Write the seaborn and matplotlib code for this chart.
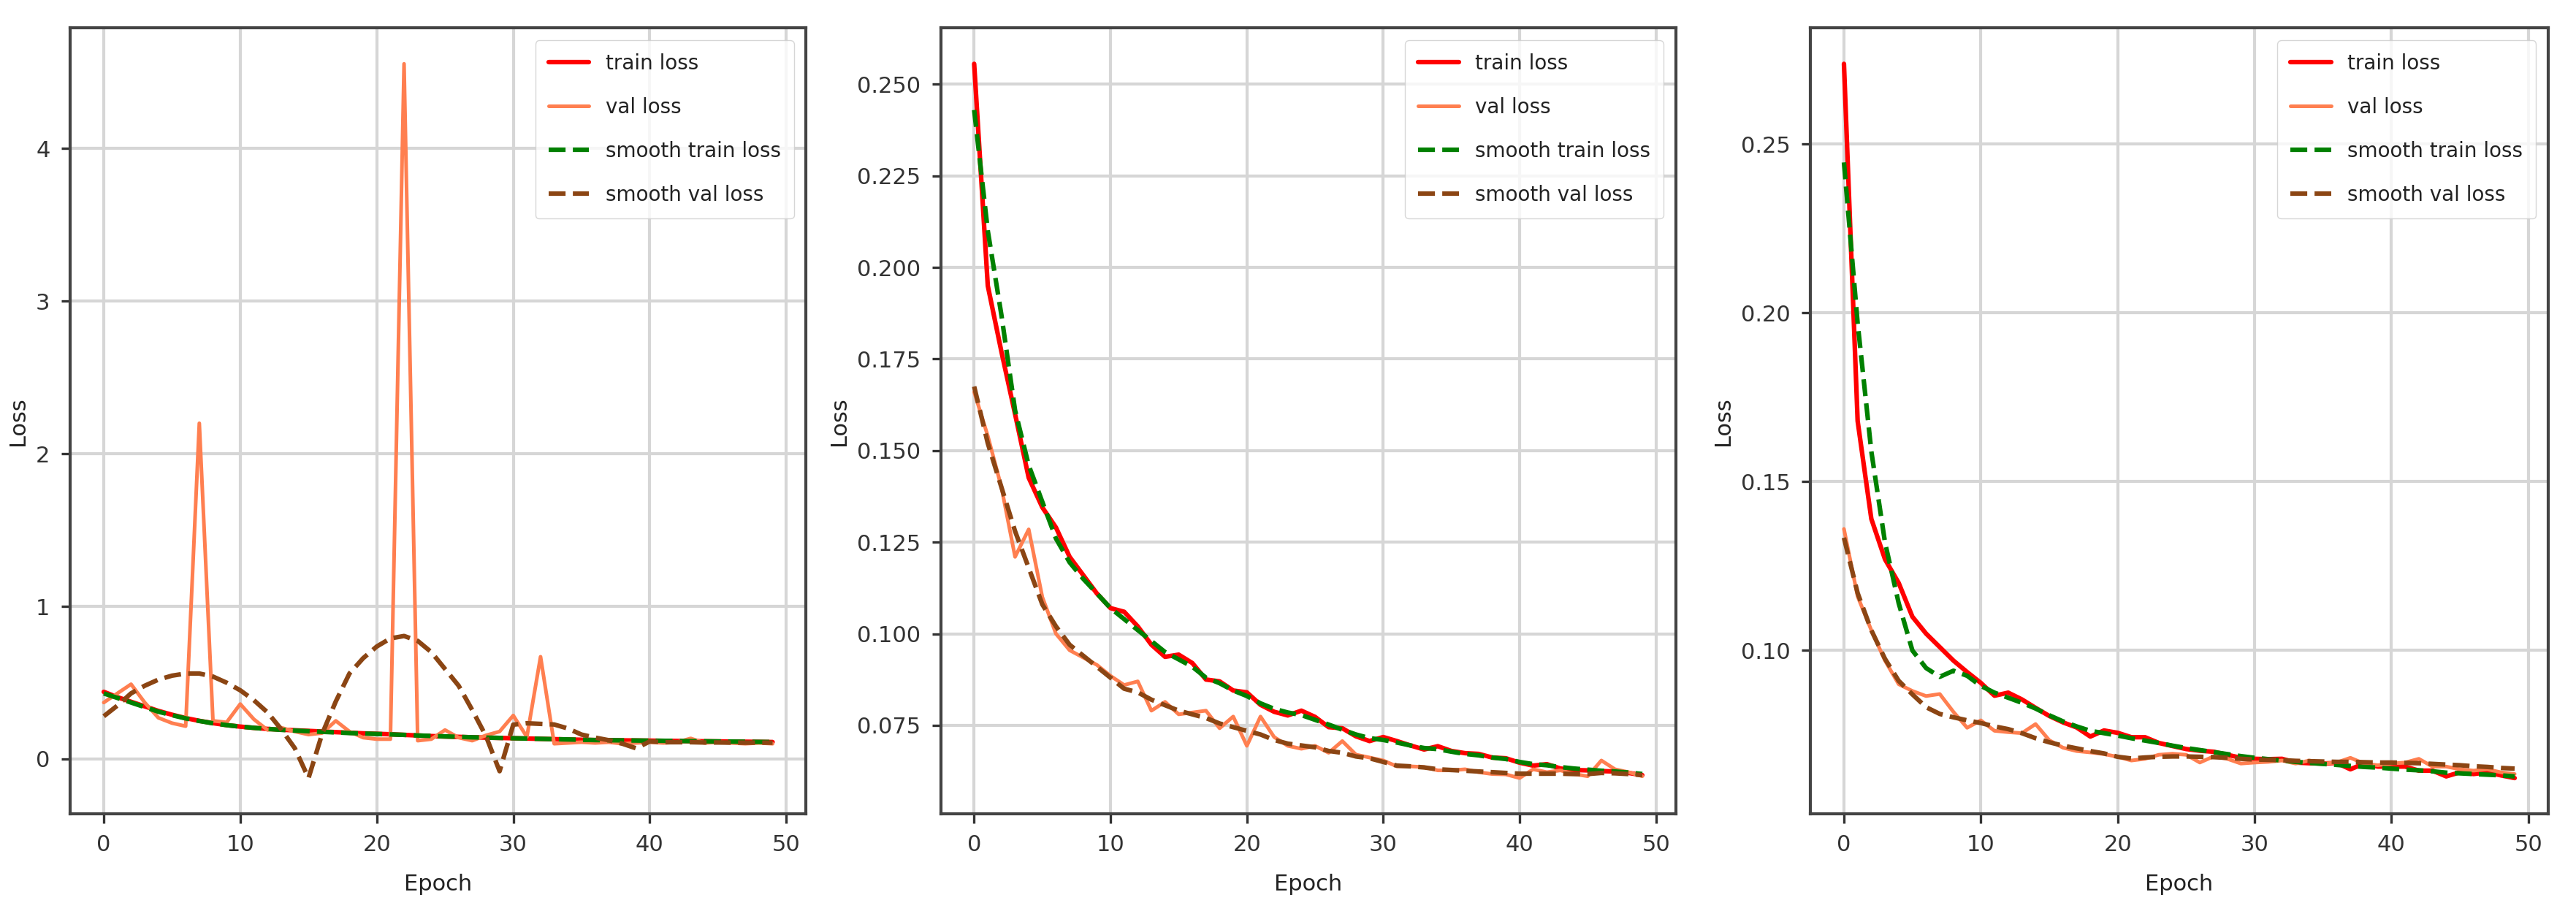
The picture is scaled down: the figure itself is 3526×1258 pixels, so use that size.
import seaborn as sns
import matplotlib.pyplot as plt

epochs = list(range(50))

# ---- run 1 ----
train_loss_1 = [0.440, 0.405, 0.375, 0.345, 0.315, 0.290, 0.268, 0.250, 0.235, 0.222,
                0.212, 0.204, 0.197, 0.192, 0.188, 0.184, 0.180, 0.176, 0.172, 0.168,
                0.165, 0.162, 0.158, 0.154, 0.150, 0.147, 0.145, 0.142, 0.140, 0.138,
                0.136, 0.134, 0.132, 0.130, 0.128, 0.126, 0.124, 0.123, 0.122, 0.121,
                0.120, 0.119, 0.118, 0.117, 0.116, 0.115, 0.114, 0.113, 0.112, 0.111]
val_loss_1 = [0.37, 0.43, 0.49, 0.37, 0.27, 0.235, 0.215, 2.20, 0.25, 0.24,
              0.36, 0.26, 0.19, 0.205, 0.18, 0.16, 0.17, 0.25, 0.18, 0.14,
              0.13, 0.13, 4.555, 0.12, 0.13, 0.19, 0.14, 0.12, 0.155, 0.18,
              0.285, 0.145, 0.67, 0.10, 0.105, 0.11, 0.105, 0.11, 0.10, 0.105,
              0.11, 0.105, 0.11, 0.135, 0.105, 0.11, 0.105, 0.10, 0.105, 0.10]
smooth_train_1 = [0.430, 0.400, 0.370, 0.340, 0.310, 0.287, 0.266, 0.249, 0.234, 0.222,
                  0.212, 0.204, 0.197, 0.191, 0.186, 0.182, 0.178, 0.174, 0.170, 0.167,
                  0.164, 0.161, 0.158, 0.154, 0.151, 0.148, 0.145, 0.142, 0.140, 0.138,
                  0.136, 0.134, 0.132, 0.130, 0.128, 0.126, 0.124, 0.123, 0.122, 0.121,
                  0.120, 0.119, 0.118, 0.117, 0.116, 0.115, 0.114, 0.113, 0.112, 0.111]
smooth_val_1 = [0.28, 0.35, 0.43, 0.48, 0.52, 0.546, 0.56, 0.56, 0.54, 0.50,
                0.45, 0.385, 0.305, 0.195, 0.07, -0.125, 0.165, 0.377, 0.56, 0.66,
                0.737, 0.79, 0.806, 0.774, 0.70, 0.59, 0.48, 0.32, 0.15, -0.08,
                0.225, 0.234, 0.23, 0.226, 0.20, 0.16, 0.14, 0.123, 0.10, 0.07,
                0.115, 0.11, 0.11, 0.11, 0.108, 0.108, 0.107, 0.107, 0.107, 0.107]

# ---- run 2 ----
train_loss_2 = [0.2556, 0.195, 0.177, 0.160, 0.1426, 0.1345, 0.129, 0.121, 0.116, 0.111,
                0.107, 0.106, 0.102, 0.097, 0.0937, 0.0943, 0.092, 0.0875, 0.0870, 0.0845,
                0.0840, 0.0806, 0.0787, 0.0777, 0.0790, 0.0773, 0.0745, 0.0742, 0.0720, 0.0707,
                0.0718, 0.0707, 0.0695, 0.0684, 0.0693, 0.0680, 0.0674, 0.0672, 0.0662, 0.0660,
                0.0648, 0.0640, 0.0644, 0.0632, 0.0628, 0.0627, 0.0625, 0.0624, 0.0620, 0.0614]
val_loss_2 = [0.166, 0.154, 0.140, 0.121, 0.1285, 0.110, 0.100, 0.0955, 0.0935, 0.0915,
              0.0885, 0.0860, 0.087, 0.079, 0.0814, 0.078, 0.0785, 0.079, 0.0742, 0.0774,
              0.0694, 0.0774, 0.0718, 0.0694, 0.0686, 0.0694, 0.0675, 0.0707, 0.0670, 0.0662,
              0.0654, 0.0638, 0.0638, 0.0636, 0.0627, 0.0627, 0.0630, 0.0622, 0.0617, 0.0616,
              0.0606, 0.0630, 0.0622, 0.0627, 0.0617, 0.0611, 0.0654, 0.0630, 0.0622, 0.0611]
smooth_train_2 = [0.243, 0.210, 0.187, 0.161, 0.146, 0.136, 0.126, 0.1195, 0.115, 0.111,
                  0.107, 0.104, 0.101, 0.098, 0.095, 0.093, 0.091, 0.088, 0.0865, 0.0845,
                  0.083, 0.081, 0.0795, 0.0785, 0.0778, 0.0765, 0.0752, 0.0738, 0.0725, 0.0715,
                  0.0710, 0.0703, 0.0695, 0.0688, 0.0685, 0.0678, 0.0672, 0.0668, 0.0662, 0.0658,
                  0.0650, 0.0644, 0.0641, 0.0636, 0.0632, 0.0629, 0.0626, 0.0624, 0.0621, 0.0617]
smooth_val_2 = [0.1675, 0.152, 0.140, 0.128, 0.118, 0.108, 0.102, 0.097, 0.094, 0.091,
                0.088, 0.085, 0.084, 0.082, 0.0805, 0.079, 0.078, 0.077, 0.0755, 0.0745,
                0.0735, 0.0725, 0.071, 0.070, 0.0695, 0.069, 0.068, 0.0675, 0.0665, 0.066,
                0.065, 0.064, 0.0638, 0.0635, 0.063, 0.0628, 0.0626, 0.0624, 0.0622, 0.062,
                0.0618, 0.0618, 0.0618, 0.0618, 0.0617, 0.0617, 0.0620, 0.0619, 0.0617, 0.0614]

# ---- run 3 ----
train_loss_3 = [0.2738, 0.168, 0.139, 0.127, 0.120, 0.110, 0.105, 0.101, 0.097, 0.0936,
                0.0904, 0.0866, 0.0875, 0.0855, 0.083, 0.0806, 0.0787, 0.0772, 0.0745, 0.0763,
                0.0756, 0.0743, 0.0743, 0.0726, 0.0717, 0.0708, 0.0703, 0.0700, 0.0691, 0.0682,
                0.0679, 0.0678, 0.0679, 0.0668, 0.0666, 0.0665, 0.0667, 0.0648, 0.0665, 0.0656,
                0.0656, 0.0656, 0.0644, 0.0644, 0.0627, 0.0639, 0.0634, 0.0639, 0.0630, 0.0622]
val_loss_3 = [0.136, 0.116, 0.106, 0.097, 0.090, 0.088, 0.0865, 0.0871, 0.0818, 0.0771,
              0.0793, 0.0762, 0.0758, 0.0755, 0.0782, 0.0734, 0.0712, 0.0702, 0.0698, 0.0693,
              0.0685, 0.0674, 0.0679, 0.0691, 0.0694, 0.0691, 0.0668, 0.0686, 0.0679, 0.0665,
              0.0668, 0.0670, 0.0674, 0.0665, 0.0674, 0.0665, 0.0668, 0.0682, 0.0665, 0.0660,
              0.0665, 0.0668, 0.0679, 0.0656, 0.0656, 0.0648, 0.0644, 0.0648, 0.0639, 0.0634]
smooth_train_3 = [0.2446, 0.197, 0.159, 0.132, 0.114, 0.100, 0.0948, 0.0922, 0.0940, 0.0925,
                  0.0895, 0.0875, 0.0860, 0.0845, 0.0828, 0.0808, 0.0790, 0.0775, 0.0762, 0.0755,
                  0.0748, 0.0740, 0.0733, 0.0726, 0.0718, 0.0711, 0.0705, 0.0699, 0.0693, 0.0687,
                  0.0682, 0.0678, 0.0674, 0.0670, 0.0667, 0.0664, 0.0661, 0.0658, 0.0655, 0.0653,
                  0.0650, 0.0647, 0.0645, 0.0642, 0.0638, 0.0636, 0.0634, 0.0632, 0.0630, 0.0627]
smooth_val_3 = [0.1334, 0.117, 0.106, 0.0975, 0.091, 0.087, 0.0832, 0.0812, 0.0802, 0.0793,
                0.0785, 0.0775, 0.0767, 0.0755, 0.0740, 0.0728, 0.0718, 0.0710, 0.0702, 0.0695,
                0.0685, 0.0680, 0.0683, 0.0685, 0.0686, 0.0686, 0.0685, 0.0684, 0.0682, 0.0679,
                0.0677, 0.0676, 0.0675, 0.0673, 0.0672, 0.0671, 0.0670, 0.0670, 0.0669, 0.0668,
                0.0668, 0.0667, 0.0666, 0.0664, 0.0662, 0.0660, 0.0657, 0.0655, 0.0652, 0.0650]

x_ticks = [0, 10, 20, 30, 40, 50]
y_ticks_1 = [0, 1, 2, 3, 4]
y_ticks_2 = [0.075, 0.100, 0.125, 0.150, 0.175, 0.200, 0.225, 0.250]
y_ticks_3 = [0.10, 0.15, 0.20, 0.25]

runs = [
    (train_loss_1, val_loss_1, smooth_train_1, smooth_val_1, y_ticks_1, "{:.0f}"),
    (train_loss_2, val_loss_2, smooth_train_2, smooth_val_2, y_ticks_2, "{:.3f}"),
    (train_loss_3, val_loss_3, smooth_train_3, smooth_val_3, y_ticks_3, "{:.2f}"),
]

sns.set_style("ticks")
plt.rcParams['font.family'] = ['DejaVu Sans']
plt.rcParams['text.color'] = '#222222'
plt.rcParams['axes.labelcolor'] = '#222222'
plt.rcParams['xtick.color'] = '#333333'
plt.rcParams['ytick.color'] = '#333333'

fig = plt.figure(figsize=(35.26, 12.58), dpi=100)

boxes = [
    [0.0273, 0.1145, 0.2856, 0.8549],
    [0.3652, 0.1145, 0.2853, 0.8549],
    [0.7028, 0.1145, 0.2864, 0.8549],
]

for box, (tr, va, s_tr, s_va, yt, fmt) in zip(boxes, runs):
    ax = fig.add_axes(box)
    sns.lineplot(x=epochs, y=tr, ax=ax, color="red", lw=4.5, label="train loss")
    sns.lineplot(x=epochs, y=va, ax=ax, color="coral", lw=3.6, label="val loss")
    sns.lineplot(x=epochs, y=s_tr, ax=ax, color="green", lw=4.5, linestyle="--",
                 label="smooth train loss")
    sns.lineplot(x=epochs, y=s_va, ax=ax, color="saddlebrown", lw=4.5, linestyle="--",
                 label="smooth val loss")

    ax.set_xticks(x_ticks)
    ax.set_yticks(yt)
    ax.set_yticklabels([fmt.format(v) for v in yt])
    ax.grid(True, color="#d6d6d6", linewidth=3)
    for sp in ax.spines.values():
        sp.set_color("#444444")
        sp.set_linewidth(3)
    ax.tick_params(labelsize=22, length=9, width=2.4, pad=11)
    ax.set_xlabel("Epoch", fontsize=22, labelpad=18)
    ax.set_ylabel("Loss", fontsize=22, labelpad=7)

    leg = ax.legend(loc="upper right", fontsize=20, labelspacing=1.15,
                    borderpad=0.65, handlelength=2.0, borderaxespad=0.6)
    leg.get_frame().set_edgecolor("#cccccc")

fig.savefig("out.png", dpi=100)
